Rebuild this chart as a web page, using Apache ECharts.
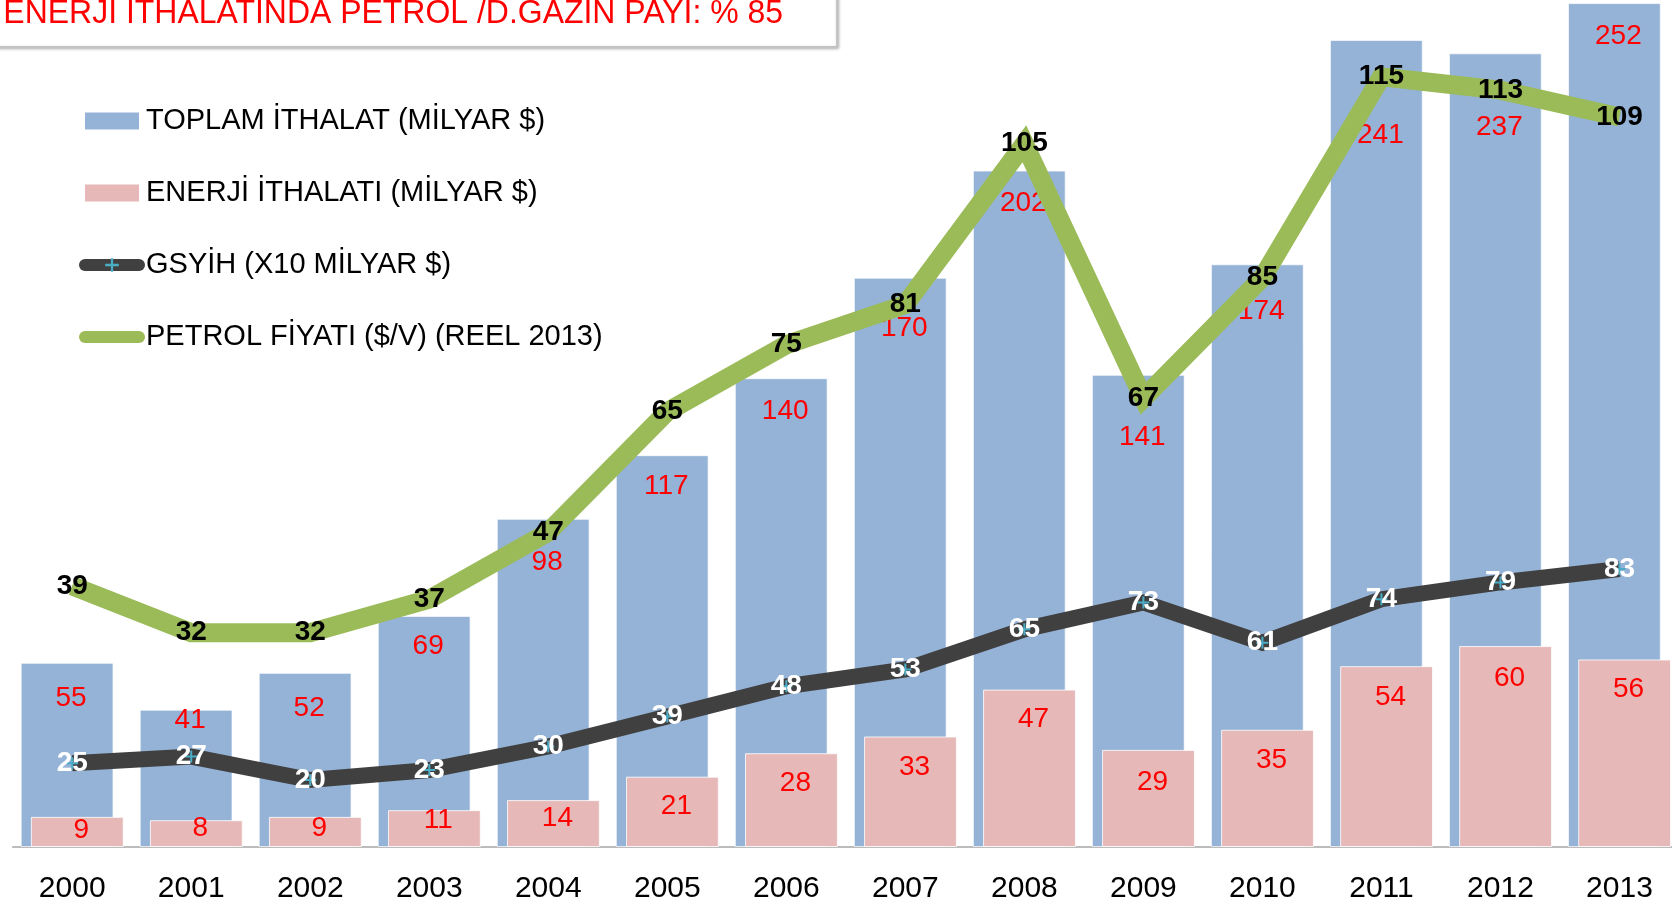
<!DOCTYPE html>
<html>
<head>
<meta charset="utf-8">
<title>Enerji ithalatı</title>
<script src="https://cdn.jsdelivr.net/npm/echarts@6/dist/echarts.min.js"></script>
<style>
  html, body { margin: 0; padding: 0; background: #fff; }
  #chart { width: 1672px; height: 906px; }
</style>
</head>
<body>
<div id="chart"></div>
<script>
const years = ['2000', '2001', '2002', '2003', '2004', '2005', '2006', '2007', '2008', '2009', '2010', '2011', '2012', '2013'];
const toplamIthalat = [55, 41, 52, 69, 98, 117, 140, 170, 202, 141, 174, 241, 237, 252];
const enerjiIthalati = [9, 8, 9, 11, 14, 21, 28, 33, 47, 29, 35, 54, 60, 56];
const gsyih = [25, 27, 20, 23, 30, 39, 48, 53, 65, 73, 61, 74, 79, 83];
const petrolFiyati = [39, 32, 32, 37, 47, 65, 75, 81, 105, 67, 85, 115, 113, 109];

const names = ['TOPLAM İTHALAT (MİLYAR $)', 'ENERJİ İTHALATI (MİLYAR $)', 'GSYİH (X10 MİLYAR $)', 'PETROL FİYATI ($/V) (REEL 2013)'];
const titleText = 'ENERJI ITHALATINDA PETROL /D.GAZIN PAYI: % 85';

// how far below the bar top each value label sits (labels were nudged by hand in the original)
const totalLabelDy = [35, 11, 35, 30, 43, 31, 33, 51, 33, 62, 47, 95, 74, 33];
const energyLabelDy = [13, 8, 11, 10, 18, 30, 30, 31, 30, 32, 30, 31, 32, 30];

const font = "'Liberation Sans', Arial, sans-serif";
const plus = 'path://M5,0h2v5h5v2h-5v5h-2v-5h-5v-2h5z';

function barData(values, dys) {
    return values.map((v, i) => ({
        value: v,
        label: { offset: [4, dys[i] - 14] }
    }));
}

const chart = echarts.init(document.getElementById('chart'));
chart.setOption({
    animation: false,
    textStyle: { fontFamily: font },
    grid: { left: 12.7, right: -7, top: -23.7, bottom: 59, outerBoundsMode: 'none' },
    legend: {
        orient: 'vertical',
        left: 74,
        top: 101,
        itemWidth: 54,
        itemHeight: 17,
        itemGap: 42,
        selectedMode: false,
        textStyle: { fontFamily: font, fontSize: 29, color: '#000', lineHeight: 30, padding: [0, 0, 0, 2] },
        itemStyle: { borderWidth: 0 },
        lineStyle: { width: 12, cap: 'round' },
        data: [
            { name: names[0], icon: 'rect' },
            { name: names[1], icon: 'rect' },
            { name: names[2] },
            { name: names[3], itemStyle: { opacity: 0 } }
        ]
    },
    xAxis: {
        type: 'category',
        data: years,
        axisLine: { lineStyle: { color: '#a6a6a6', width: 1.5 } },
        axisTick: { length: 11, lineStyle: { color: '#a6a6a6', width: 1.5 } },
        axisLabel: { fontFamily: font, fontSize: 30, color: '#000', margin: 27 }
    },
    yAxis: [
        { type: 'value', min: 0, max: 260, show: false },
        { type: 'value', min: 0, max: 130, show: false }
    ],
    graphic: [
        {
            type: 'rect',
            shape: { x: -10, y: -10, width: 847, height: 57 },
            style: {
                fill: '#fff', stroke: '#c4c4c4', lineWidth: 2,
                shadowBlur: 3, shadowOffsetX: 1, shadowOffsetY: 1, shadowColor: 'rgba(0,0,0,0.25)'
            },
            z: 10
        },
        {
            // the original uses a condensed face; squeeze a regular one to the same width
            type: 'text',
            x: 783,
            y: 14,
            scaleX: 0.94,
            style: {
                text: titleText, fill: '#ff0000',
                font: "34px 'Liberation Sans', Arial, sans-serif",
                textAlign: 'right', textVerticalAlign: 'middle'
            },
            z: 11
        }
    ],
    series: [
        {
            name: names[0],
            type: 'bar',
            data: barData(toplamIthalat, totalLabelDy),
            barWidth: '78%',
            barGap: '-89%',
            itemStyle: { color: '#95b3d7', borderColor: 'rgba(255,255,255,0.7)', borderWidth: 1 },
            label: { show: true, position: 'insideTop', distance: 0, color: '#ff0000', fontSize: 28, lineHeight: 28, fontFamily: font }
        },
        {
            name: names[1],
            type: 'bar',
            data: barData(enerjiIthalati, energyLabelDy),
            barWidth: '78%',
            itemStyle: { color: '#e6b9b8', borderColor: 'rgba(255,255,255,0.8)', borderWidth: 1 },
            label: { show: true, position: 'insideTop', distance: 0, color: '#ff0000', fontSize: 28, lineHeight: 28, fontFamily: font }
        },
        {
            name: names[2],
            type: 'line',
            data: gsyih,
            symbol: plus,
            symbolSize: 12,
            itemStyle: { color: '#4bacc6' },
            lineStyle: { color: '#404040', width: 16, join: 'miter', miterLimit: 4 },
            label: { show: true, position: 'inside', color: '#fff', fontSize: 28, fontWeight: 'bold', fontFamily: font }
        },
        {
            name: names[3],
            type: 'line',
            yAxisIndex: 1,
            data: petrolFiyati,
            symbol: 'circle',
            symbolSize: 1,
            itemStyle: { color: '#9bbb59' },
            lineStyle: { color: '#9bbb59', width: 19, join: 'miter', miterLimit: 4 },
            label: { show: true, position: 'inside', color: '#000', fontSize: 28, fontWeight: 'bold', fontFamily: font }
        }
    ]
});
</script>
</body>
</html>
